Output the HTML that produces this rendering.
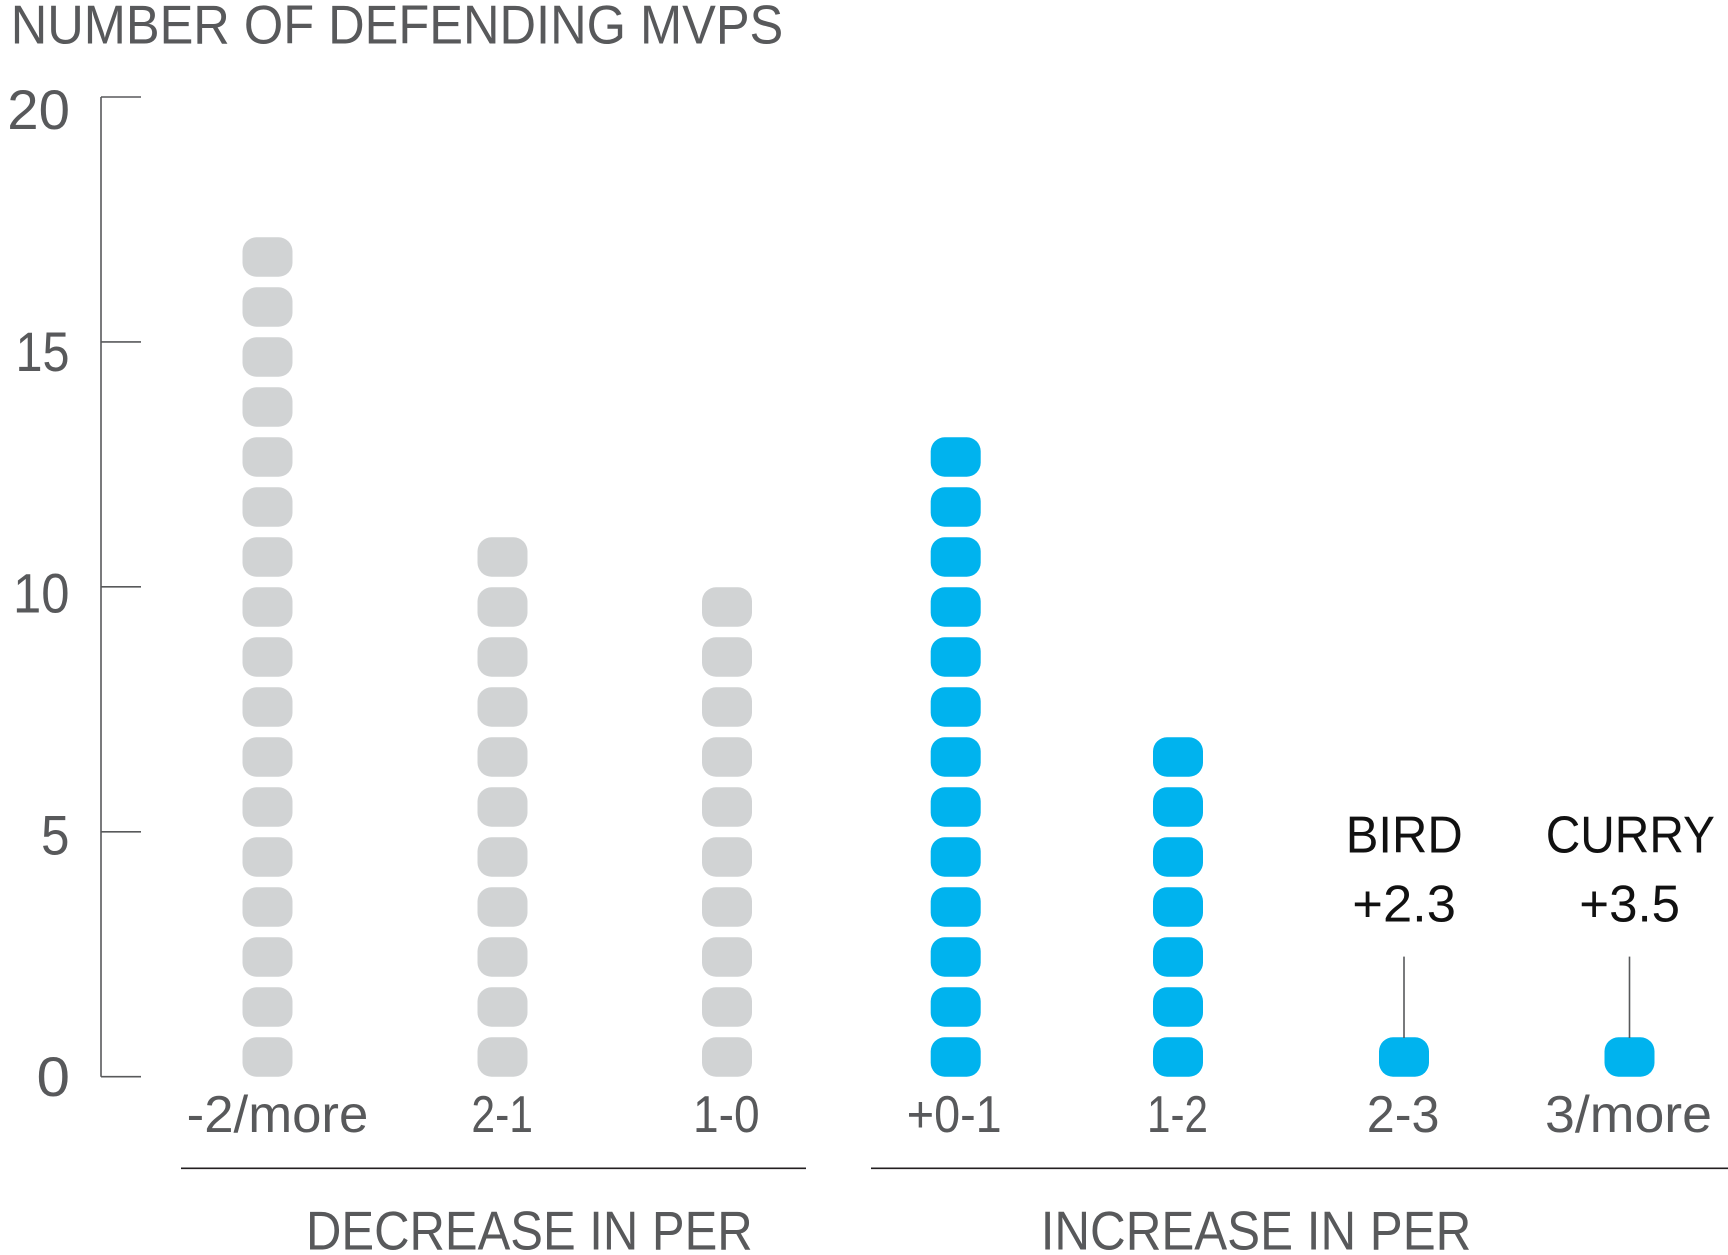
<!DOCTYPE html>
<html>
<head>
<meta charset="utf-8">
<style>
  html,body{margin:0;padding:0;background:#fff;}
  svg{display:block;}
  text{font-family:"Liberation Sans",sans-serif;}
</style>
</head>
<body>
<svg width="1728" height="1255" viewBox="0 0 1728 1255" xmlns="http://www.w3.org/2000/svg">
  <rect x="0" y="0" width="1728" height="1255" fill="#fff"/>

  <!-- Title -->
  <text x="10.7" y="43.3" font-size="55" fill="#58595b" textLength="772.6" lengthAdjust="spacingAndGlyphs">NUMBER OF DEFENDING MVPS</text>

  <!-- Y axis -->
  <g stroke="#58595b" stroke-width="1.6" fill="none">
    <line x1="101" y1="97" x2="101" y2="1076.7"/>
    <line x1="101" y1="97" x2="141" y2="97"/>
    <line x1="101" y1="341.9" x2="141" y2="341.9"/>
    <line x1="101" y1="586.8" x2="141" y2="586.8"/>
    <line x1="101" y1="831.8" x2="141" y2="831.8"/>
    <line x1="101" y1="1076.7" x2="141" y2="1076.7"/>
  </g>
  <g font-size="56" fill="#58595b">
    <text x="7.3" y="129" textLength="62.7" lengthAdjust="spacingAndGlyphs">20</text>
    <text x="15.5" y="370.8" textLength="54" lengthAdjust="spacingAndGlyphs">15</text>
    <text x="13" y="612.5" textLength="56.5" lengthAdjust="spacingAndGlyphs">10</text>
    <text x="41" y="854.3" textLength="28.5" lengthAdjust="spacingAndGlyphs">5</text>
    <text x="36.5" y="1096" textLength="33.5" lengthAdjust="spacingAndGlyphs">0</text>
  </g>

  <!-- Gray dots -->
  <g fill="#d1d3d4">
    <!-- col 1: 17 -->
    <rect x="242.5" y="1037.3" width="50" height="39.4" rx="14"/>
    <rect x="242.5" y="987.3" width="50" height="39.4" rx="14"/>
    <rect x="242.5" y="937.3" width="50" height="39.4" rx="14"/>
    <rect x="242.5" y="887.3" width="50" height="39.4" rx="14"/>
    <rect x="242.5" y="837.3" width="50" height="39.4" rx="14"/>
    <rect x="242.5" y="787.3" width="50" height="39.4" rx="14"/>
    <rect x="242.5" y="737.3" width="50" height="39.4" rx="14"/>
    <rect x="242.5" y="687.3" width="50" height="39.4" rx="14"/>
    <rect x="242.5" y="637.3" width="50" height="39.4" rx="14"/>
    <rect x="242.5" y="587.3" width="50" height="39.4" rx="14"/>
    <rect x="242.5" y="537.3" width="50" height="39.4" rx="14"/>
    <rect x="242.5" y="487.3" width="50" height="39.4" rx="14"/>
    <rect x="242.5" y="437.3" width="50" height="39.4" rx="14"/>
    <rect x="242.5" y="387.3" width="50" height="39.4" rx="14"/>
    <rect x="242.5" y="337.3" width="50" height="39.4" rx="14"/>
    <rect x="242.5" y="287.3" width="50" height="39.4" rx="14"/>
    <rect x="242.5" y="237.3" width="50" height="39.4" rx="14"/>
    <!-- col 2: 11 -->
    <rect x="477.5" y="1037.3" width="50" height="39.4" rx="14"/>
    <rect x="477.5" y="987.3" width="50" height="39.4" rx="14"/>
    <rect x="477.5" y="937.3" width="50" height="39.4" rx="14"/>
    <rect x="477.5" y="887.3" width="50" height="39.4" rx="14"/>
    <rect x="477.5" y="837.3" width="50" height="39.4" rx="14"/>
    <rect x="477.5" y="787.3" width="50" height="39.4" rx="14"/>
    <rect x="477.5" y="737.3" width="50" height="39.4" rx="14"/>
    <rect x="477.5" y="687.3" width="50" height="39.4" rx="14"/>
    <rect x="477.5" y="637.3" width="50" height="39.4" rx="14"/>
    <rect x="477.5" y="587.3" width="50" height="39.4" rx="14"/>
    <rect x="477.5" y="537.3" width="50" height="39.4" rx="14"/>
    <!-- col 3: 10 -->
    <rect x="702" y="1037.3" width="50" height="39.4" rx="14"/>
    <rect x="702" y="987.3" width="50" height="39.4" rx="14"/>
    <rect x="702" y="937.3" width="50" height="39.4" rx="14"/>
    <rect x="702" y="887.3" width="50" height="39.4" rx="14"/>
    <rect x="702" y="837.3" width="50" height="39.4" rx="14"/>
    <rect x="702" y="787.3" width="50" height="39.4" rx="14"/>
    <rect x="702" y="737.3" width="50" height="39.4" rx="14"/>
    <rect x="702" y="687.3" width="50" height="39.4" rx="14"/>
    <rect x="702" y="637.3" width="50" height="39.4" rx="14"/>
    <rect x="702" y="587.3" width="50" height="39.4" rx="14"/>
  </g>

  <!-- Blue dots -->
  <g fill="#00b3ee">
    <!-- col 4: 13 -->
    <rect x="930.7" y="1037.3" width="50" height="39.4" rx="14"/>
    <rect x="930.7" y="987.3" width="50" height="39.4" rx="14"/>
    <rect x="930.7" y="937.3" width="50" height="39.4" rx="14"/>
    <rect x="930.7" y="887.3" width="50" height="39.4" rx="14"/>
    <rect x="930.7" y="837.3" width="50" height="39.4" rx="14"/>
    <rect x="930.7" y="787.3" width="50" height="39.4" rx="14"/>
    <rect x="930.7" y="737.3" width="50" height="39.4" rx="14"/>
    <rect x="930.7" y="687.3" width="50" height="39.4" rx="14"/>
    <rect x="930.7" y="637.3" width="50" height="39.4" rx="14"/>
    <rect x="930.7" y="587.3" width="50" height="39.4" rx="14"/>
    <rect x="930.7" y="537.3" width="50" height="39.4" rx="14"/>
    <rect x="930.7" y="487.3" width="50" height="39.4" rx="14"/>
    <rect x="930.7" y="437.3" width="50" height="39.4" rx="14"/>
    <!-- col 5: 7 -->
    <rect x="1153" y="1037.3" width="50" height="39.4" rx="14"/>
    <rect x="1153" y="987.3" width="50" height="39.4" rx="14"/>
    <rect x="1153" y="937.3" width="50" height="39.4" rx="14"/>
    <rect x="1153" y="887.3" width="50" height="39.4" rx="14"/>
    <rect x="1153" y="837.3" width="50" height="39.4" rx="14"/>
    <rect x="1153" y="787.3" width="50" height="39.4" rx="14"/>
    <rect x="1153" y="737.3" width="50" height="39.4" rx="14"/>
    <!-- col 6, 7 -->
    <rect x="1379" y="1037.3" width="50" height="39.4" rx="14"/>
    <rect x="1604.5" y="1037.3" width="50" height="39.4" rx="14"/>
  </g>

  <!-- Leader lines -->
  <g stroke="#58595b" stroke-width="1.6">
    <line x1="1404" y1="956.6" x2="1404" y2="1038"/>
    <line x1="1629.5" y1="956.6" x2="1629.5" y2="1038"/>
  </g>

  <!-- Annotations -->
  <g font-size="52" fill="#111">
    <text x="1345.7" y="852.7" textLength="117" lengthAdjust="spacingAndGlyphs">BIRD</text>
    <text x="1352.3" y="921.7" textLength="103.7" lengthAdjust="spacingAndGlyphs">+2.3</text>
    <text x="1545.7" y="852.7" textLength="169.3" lengthAdjust="spacingAndGlyphs">CURRY</text>
    <text x="1579.3" y="921.7" textLength="100.7" lengthAdjust="spacingAndGlyphs">+3.5</text>
  </g>

  <!-- Category labels -->
  <g font-size="52" fill="#58595b">
    <text x="186.7" y="1132" textLength="181.6" lengthAdjust="spacingAndGlyphs">-2/more</text>
    <text x="471.4" y="1132" textLength="61.6" lengthAdjust="spacingAndGlyphs">2-1</text>
    <text x="693" y="1132" textLength="66.6" lengthAdjust="spacingAndGlyphs">1-0</text>
    <text x="906.8" y="1132" textLength="94.9" lengthAdjust="spacingAndGlyphs">+0-1</text>
    <text x="1147" y="1132" textLength="61" lengthAdjust="spacingAndGlyphs">1-2</text>
    <text x="1366.8" y="1132" textLength="72.7" lengthAdjust="spacingAndGlyphs">2-3</text>
    <text x="1545" y="1132" textLength="167" lengthAdjust="spacingAndGlyphs">3/more</text>
  </g>

  <!-- Separator lines -->
  <g stroke="#231f20" stroke-width="1.6">
    <line x1="181" y1="1168.3" x2="806" y2="1168.3"/>
    <line x1="871" y1="1168.3" x2="1728" y2="1168.3"/>
  </g>

  <!-- Group labels -->
  <g font-size="55" fill="#58595b">
    <text x="306" y="1249.5" textLength="446.7" lengthAdjust="spacingAndGlyphs">DECREASE IN PER</text>
    <text x="1040.7" y="1249.5" textLength="430.6" lengthAdjust="spacingAndGlyphs">INCREASE IN PER</text>
  </g>
</svg>
</body>
</html>
